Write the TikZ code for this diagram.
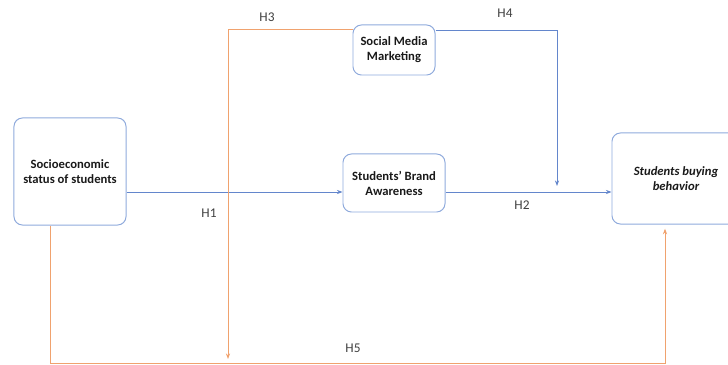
\documentclass[tikz,border=0pt]{standalone}
\usepackage{fontspec}
\setmainfont{Carlito}
\usetikzlibrary{arrows.meta}
\definecolor{boxblue}{HTML}{8FAADC}
\definecolor{lineblue}{HTML}{6386CC}
\definecolor{lineorange}{HTML}{F0A26E}
\tikzset{
  varbox/.style={draw=boxblue, line width=0.7pt, rounded corners=6pt, align=center,
    inner sep=0pt, text=black!90, font=\bfseries\fontsize{9}{10.6}\selectfont},
  hlabel/.style={text=black!75, font=\fontsize{9.5}{10}\selectfont},
  bluepath/.style={->, draw=lineblue, line width=0.6pt},
  orangepath/.style={->, draw=lineorange, line width=0.6pt},
}
\begin{document}
\begin{tikzpicture}[>={Stealth[length=4pt,width=3pt]}, x=0.025cm, y=-0.025cm]
\useasboundingbox (0,0) rectangle (728,365);

\node[varbox, minimum width=2.8cm, minimum height=2.675cm] (ses) at (70,171.5) {Socioeconomic\\status of students};
\node[varbox, minimum width=2.05cm, minimum height=1.25cm] (smm) at (394,50) {Social Media\\Marketing};
\node[varbox, minimum width=2.55cm, minimum height=1.45cm] (sba) at (394,183) {Students' Brand\\Awareness};
\node[varbox, minimum width=3.2cm, minimum height=2.275cm, font=\bfseries\itshape\fontsize{9}{10.6}\selectfont] (sbb) at (676,178.5) {Students buying\\behavior};

\coordinate (h4end) at (557,186);
\coordinate (h3end) at (228,359);

% blue paths
\draw[bluepath] (ses.east|-0,192) -- (sba.west|-0,192);
\draw[bluepath] (sba.east|-0,192) -- (sbb.west|-0,192);
\draw[bluepath] (smm.east|-0,30) -| (h4end);

% orange paths
\draw[orangepath] (smm.west|-0,29) -| (h3end);
\draw[orangepath, shorten >=5\pgflinewidth] (ses.south-|50,0) -- (50,363) -| (sbb.south-|665,0);

\node[hlabel] (h1) at (209,213) {H1};
\node[hlabel] (h2) at (522,205) {H2};
\node[hlabel] (h3) at (267,17) {H3};
\node[hlabel] (h4) at (505,13) {H4};
\node[hlabel] (h5) at (353,348) {H5};
\end{tikzpicture}
\end{document}
